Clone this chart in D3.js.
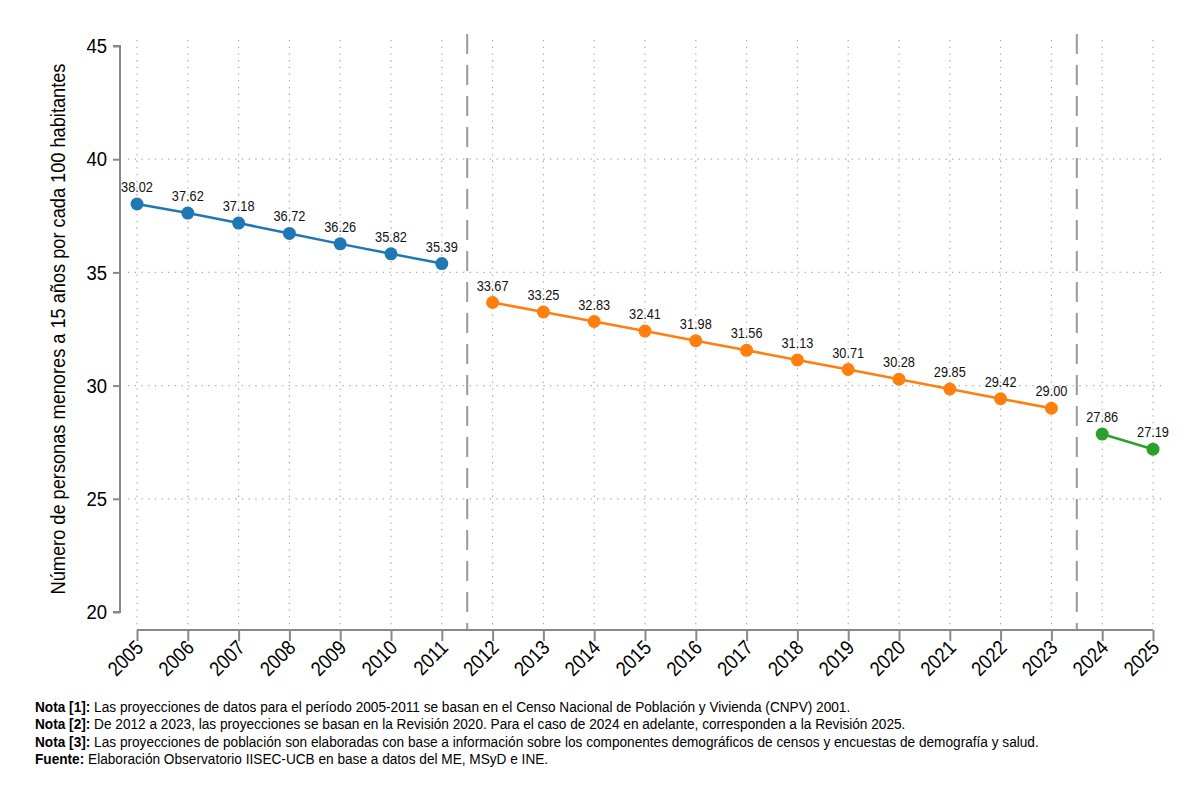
<!DOCTYPE html>
<html>
<head>
<meta charset="utf-8">
<script src="https://cdn.jsdelivr.net/npm/d3@7"></script>
<style>
  body { margin: 0; background: #fff; }
  svg { display: block; font-family: "Liberation Sans", Arial, sans-serif; }
</style>
</head>
<body>
<div id="chart"></div>
<script>
// datos por período de proyección
const years1 = [2005, 2006, 2007, 2008, 2009, 2010, 2011];
const values1 = [38.02, 37.62, 37.18, 36.72, 36.26, 35.82, 35.39];
const years2 = [2012, 2013, 2014, 2015, 2016, 2017, 2018, 2019, 2020, 2021, 2022, 2023];
const values2 = [33.67, 33.25, 32.83, 32.41, 31.98, 31.56, 31.13, 30.71, 30.28, 29.85, 29.42, 29.00];
const years3 = [2024, 2025];
const values3 = [27.86, 27.19];
const yTicks = [20, 25, 30, 35, 40, 45];
const breaks = [2011.5, 2023.5];
const colors = ['#1f77b4', '#ff7f0e', '#2ca02c'];
const notes = [
  ['Nota [1]:', ' Las proyecciones de datos para el período 2005-2011 se basan en el Censo Nacional de Población y Vivienda (CNPV) 2001.'],
  ['Nota [2]:', ' De 2012 a 2023, las proyecciones se basan en la Revisión 2020. Para el caso de 2024 en adelante, corresponden a la Revisión 2025.'],
  ['Nota [3]:', ' Las proyecciones de población son elaboradas con base a información sobre los componentes demográficos de censos y encuestas de demografía y salud.'],
  ['Fuente:', ' Elaboración Observatorio IISEC-UCB en base a datos del ME, MSyD e INE.']
];
const yTitle = 'Número de personas menores a 15 años por cada 100 habitantes';

const width = 1200, height = 801;
const narrow = 0.88; // imitar fuente condensada
const svg = d3.select('#chart').append('svg')
  .attr('width', width).attr('height', height);

const x = d3.scaleLinear().domain([2005, 2025]).range([137, 1153]);
const y = d3.scaleLinear().domain([20, 45]).range([612, 46]);

// rejilla punteada
const grid = svg.append('g');
grid.selectAll('line.v')
  .data(d3.range(2005, 2026))
  .join('line')
  .attr('x1', d => x(d)).attr('x2', d => x(d))
  .attr('y1', 40).attr('y2', 626)
  .attr('stroke', '#aaa').attr('stroke-width', 1.2)
  .attr('stroke-dasharray', '1.3,5.4');
grid.selectAll('line.h')
  .data([25, 30, 35, 40])
  .join('line')
  .attr('class', 'h')
  .attr('x1', 128).attr('x2', 1165)
  .attr('y1', d => y(d)).attr('y2', d => y(d))
  .attr('stroke', '#aaa').attr('stroke-width', 1.2)
  .attr('stroke-dasharray', '1.3,5.4');

// líneas de corte
svg.selectAll('line.brk')
  .data(breaks)
  .join('line')
  .attr('class', 'brk')
  .attr('x1', d => x(d)).attr('x2', d => x(d))
  .attr('y1', 34).attr('y2', 630)
  .attr('stroke', '#999').attr('stroke-width', 2)
  .attr('stroke-dasharray', '20,11');

// eje y
const yAxis = svg.append('g')
  .attr('transform', 'translate(120,0)')
  .call(d3.axisLeft(y).tickValues(yTicks).tickSize(7).tickPadding(6).tickFormat(d3.format('d')));
yAxis.select('.domain').attr('stroke', '#888').attr('stroke-width', 2).attr('d', `M-7,${y(45)}H0V${y(20)}H-7`);
yAxis.selectAll('line').attr('stroke', '#888').attr('stroke-width', 2);
yAxis.selectAll('text')
  .attr('font-size', 21).attr('fill', '#000').attr('font-family', null)
  .attr('x', null)
  .attr('transform', `translate(-13,0) scale(${narrow},1)`);

// eje x
const xAxis = svg.append('g')
  .attr('transform', 'translate(0,630)')
  .call(d3.axisBottom(x).tickValues(d3.range(2005, 2026)).tickSize(11).tickFormat(d3.format('d')));
xAxis.select('.domain').attr('stroke', '#888').attr('stroke-width', 2).attr('d', `M${x(2005)},0H${x(2025)}`);
xAxis.selectAll('line').attr('stroke', '#888').attr('stroke-width', 2);
xAxis.selectAll('text')
  .attr('font-size', 20.5).attr('fill', '#000').attr('font-family', null)
  .attr('text-anchor', 'end')
  .attr('dy', null).attr('y', 0)
  .attr('transform', `translate(7,19) rotate(-45) scale(${narrow},1)`);

// título eje y
svg.append('text')
  .attr('transform', `translate(65,${(y(45) + y(20)) / 2}) rotate(-90) scale(0.91,1)`)
  .attr('text-anchor', 'middle')
  .attr('font-size', 20)
  .text(yTitle);

// series
const series = [
  { years: years1, values: values1, color: colors[0] },
  { years: years2, values: values2, color: colors[1] },
  { years: years3, values: values3, color: colors[2] }
];
const line = d3.line().x(d => x(d[0])).y(d => y(d[1]));
series.forEach(s => {
  const pts = s.years.map((yr, i) => [yr, s.values[i]]);
  const g = svg.append('g');
  g.append('path').datum(pts)
    .attr('d', line).attr('fill', 'none')
    .attr('stroke', s.color).attr('stroke-width', 2.5);
  g.selectAll('circle').data(pts).join('circle')
    .attr('cx', d => x(d[0])).attr('cy', d => y(d[1]))
    .attr('r', 6.5).attr('fill', s.color);
  g.selectAll('text').data(pts).join('text')
    .attr('transform', d => `translate(${x(d[0])},${y(d[1]) - 12}) scale(${narrow},1)`)
    .attr('text-anchor', 'middle')
    .attr('font-size', 14.5)
    .attr('fill', '#111')
    .text(d => d[1].toFixed(2));
});

// notas
const nt = svg.append('g');
notes.forEach((n, i) => {
  const t = nt.append('text')
    .attr('transform', `translate(35,${712 + i * 17.3}) scale(0.91,1)`)
    .attr('font-size', 15);
  t.append('tspan').attr('font-weight', 'bold').text(n[0]);
  t.append('tspan').text(n[1]);
});
</script>
</body>
</html>
